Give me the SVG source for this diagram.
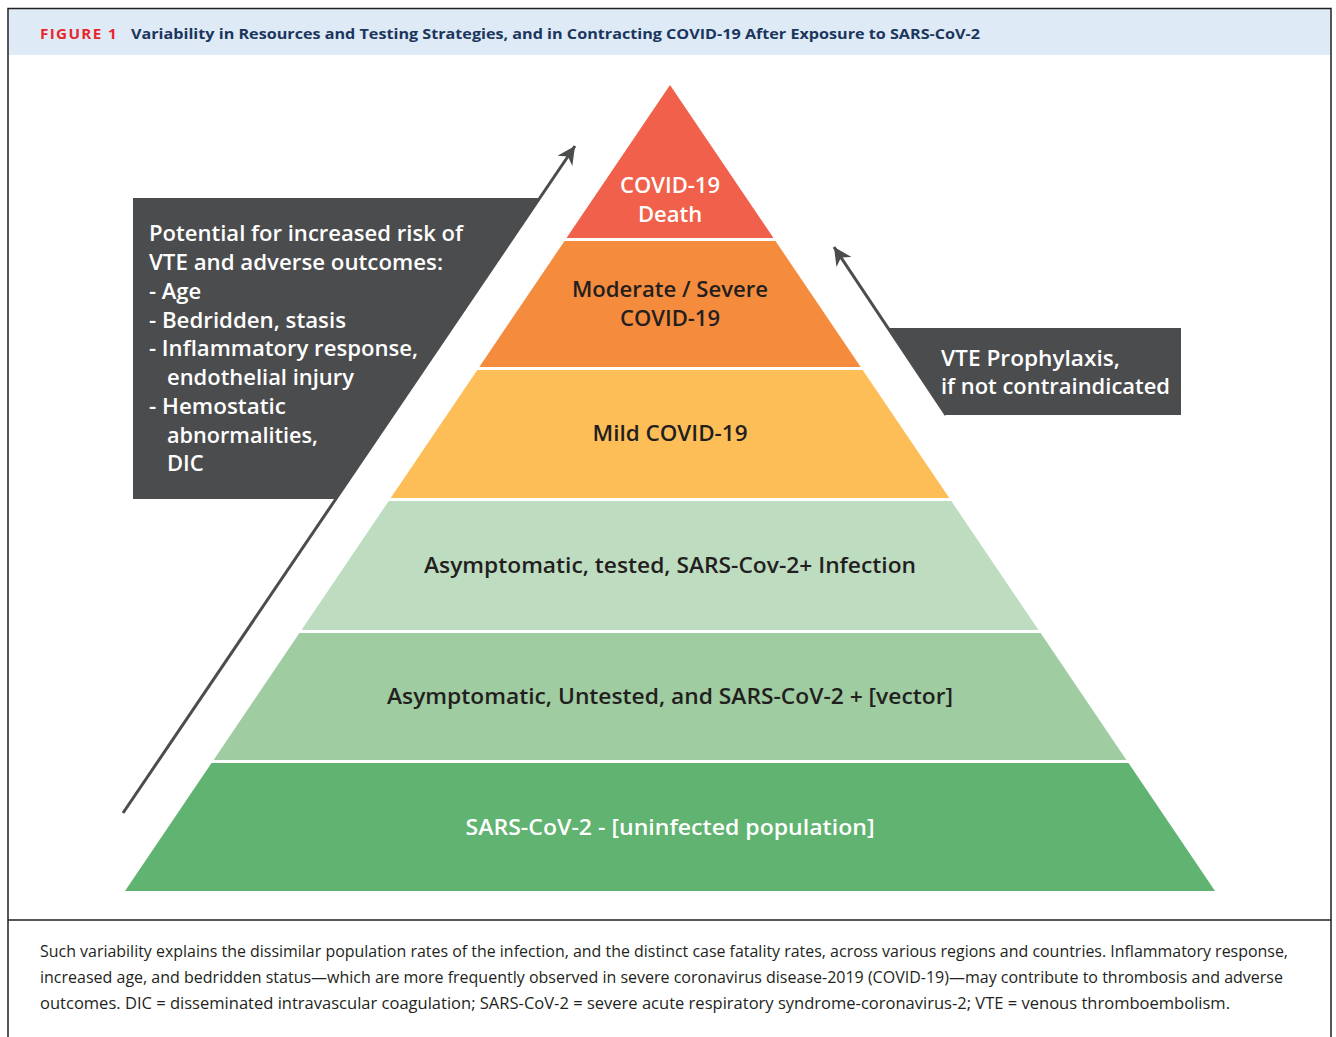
<svg xmlns="http://www.w3.org/2000/svg" width="1336" height="1037" viewBox="0 0 1336 1037">
<defs>
<style>
.lbl{font-family:"Open Sans","Noto Sans",sans-serif;font-size:22px;font-weight:600}
.dark{fill:#231f20}
.wht{fill:#ffffff}
.box{fill:#4b4c4e}
.cap{font-family:"Open Sans","Noto Sans",sans-serif;font-size:15.5px;fill:#231f20}
</style>
<marker id="ah" viewBox="0 0 10 10" refX="10" refY="5" markerUnits="userSpaceOnUse" markerWidth="22" markerHeight="18" orient="auto">
<path d="M0,0 L10,5 L0,10 L3,5 z" fill="#4b4c4e"/>
</marker>
</defs>
<rect x="0" y="0" width="1336" height="1037" fill="#ffffff"/>
<g id="frame">
<rect x="8.5" y="9" width="1322" height="46" fill="#deeaf6"/>
<path d="M8,1037 V8.5 H1331 V1037" fill="none" stroke="#231f20" stroke-width="1.5"/>
<line x1="8" y1="920" x2="1331" y2="920" stroke="#231f20" stroke-width="1.5"/>
</g>
<g id="title">
<text x="40" y="39" font-family="'Open Sans','Noto Sans',sans-serif" font-size="13.5" font-weight="700" fill="#e8262c" letter-spacing="1.2" textLength="78" lengthAdjust="spacingAndGlyphs">FIGURE 1</text>
<text x="131" y="39" font-family="'Open Sans','Noto Sans',sans-serif" font-size="15" font-weight="700" fill="#1b365d" textLength="849" lengthAdjust="spacingAndGlyphs">Variability in Resources and Testing Strategies, and in Contracting COVID-19 After Exposure to SARS-CoV-2</text>
</g>
<g id="tier-death">
<polygon points="670,85 773.5,238 566.5,238" fill="#f0604a"/>
<text class="lbl wht" x="670" y="193" text-anchor="middle">COVID-19</text>
<text class="lbl wht" x="670" y="222" text-anchor="middle">Death</text>
</g>
<g id="tier-severe">
<polygon points="564.5,241 775.5,241 860.7,367 479.3,367" fill="#f58b3d"/>
<text class="lbl dark" x="670" y="297" text-anchor="middle" textLength="196" lengthAdjust="spacingAndGlyphs">Moderate / Severe</text>
<text class="lbl dark" x="670" y="326" text-anchor="middle">COVID-19</text>
</g>
<g id="tier-mild">
<polygon points="477.3,370 862.7,370 949.3,498 390.7,498" fill="#fdbe58"/>
<text class="lbl dark" x="670" y="441" text-anchor="middle" textLength="155" lengthAdjust="spacingAndGlyphs">Mild COVID-19</text>
</g>
<g id="tier-tested">
<polygon points="388.7,501 951.3,501 1038.5,630 301.5,630" fill="#bedcc0"/>
<text class="lbl dark" x="670" y="573" text-anchor="middle" textLength="492" lengthAdjust="spacingAndGlyphs">Asymptomatic, tested, SARS-Cov-2+ Infection</text>
</g>
<g id="tier-untested">
<polygon points="299.4,633 1040.6,633 1126.4,760 213.6,760" fill="#9fcca1"/>
<text class="lbl dark" x="670" y="704" text-anchor="middle" textLength="566" lengthAdjust="spacingAndGlyphs">Asymptomatic, Untested, and SARS-CoV-2 + [vector]</text>
</g>
<g id="tier-uninfected">
<polygon points="211.5,763 1128.5,763 1215,891 125,891" fill="#60b370"/>
<text class="lbl wht" x="670" y="835" text-anchor="middle" textLength="409" lengthAdjust="spacingAndGlyphs">SARS-CoV-2 - [uninfected population]</text>
</g>
<g id="risk-box">
<polygon class="box" points="133,198 540,198 336,499 133,499"/>
<text class="lbl wht" x="149" y="241" textLength="314" lengthAdjust="spacingAndGlyphs">Potential for increased risk of</text>
<text class="lbl wht" x="149" y="270" textLength="294" lengthAdjust="spacingAndGlyphs">VTE and adverse outcomes:</text>
<text class="lbl wht" x="149" y="299">- Age</text>
<text class="lbl wht" x="149" y="328" textLength="197" lengthAdjust="spacingAndGlyphs">- Bedridden, stasis</text>
<text class="lbl wht" x="149" y="356" textLength="269" lengthAdjust="spacingAndGlyphs">- Inflammatory response,</text>
<text class="lbl wht" x="167" y="385" textLength="187" lengthAdjust="spacingAndGlyphs">endothelial injury</text>
<text class="lbl wht" x="149" y="414" textLength="137" lengthAdjust="spacingAndGlyphs">- Hemostatic</text>
<text class="lbl wht" x="167" y="443" textLength="151" lengthAdjust="spacingAndGlyphs">abnormalities,</text>
<text class="lbl wht" x="167" y="471">DIC</text>
</g>
<g id="prophylaxis-box">
<polygon class="box" points="888,328 1181,328 1181,415 946,415"/>
<text class="lbl wht" x="941" y="366" textLength="179" lengthAdjust="spacingAndGlyphs">VTE Prophylaxis,</text>
<text class="lbl wht" x="941" y="394" textLength="229" lengthAdjust="spacingAndGlyphs">if not contraindicated</text>
</g>
<g id="connectors" stroke="#4b4c4e" stroke-width="3" fill="none">
<line x1="123" y1="813" x2="575" y2="146" marker-end="url(#ah)"/>
<line x1="946" y1="415" x2="834" y2="247" marker-end="url(#ah)"/>
</g>
<g id="caption">
<text class="cap" x="40" y="957" textLength="1248" lengthAdjust="spacingAndGlyphs">Such variability explains the dissimilar population rates of the infection, and the distinct case fatality rates, across various regions and countries. Inflammatory response,</text>
<text class="cap" x="40" y="983" textLength="1243" lengthAdjust="spacingAndGlyphs">increased age, and bedridden status—which are more frequently observed in severe coronavirus disease-2019 (COVID-19)—may contribute to thrombosis and adverse</text>
<text class="cap" x="40" y="1009" textLength="1190" lengthAdjust="spacingAndGlyphs">outcomes. DIC = disseminated intravascular coagulation; SARS-CoV-2 = severe acute respiratory syndrome-coronavirus-2; VTE = venous thromboembolism.</text>
</g>
</svg>
